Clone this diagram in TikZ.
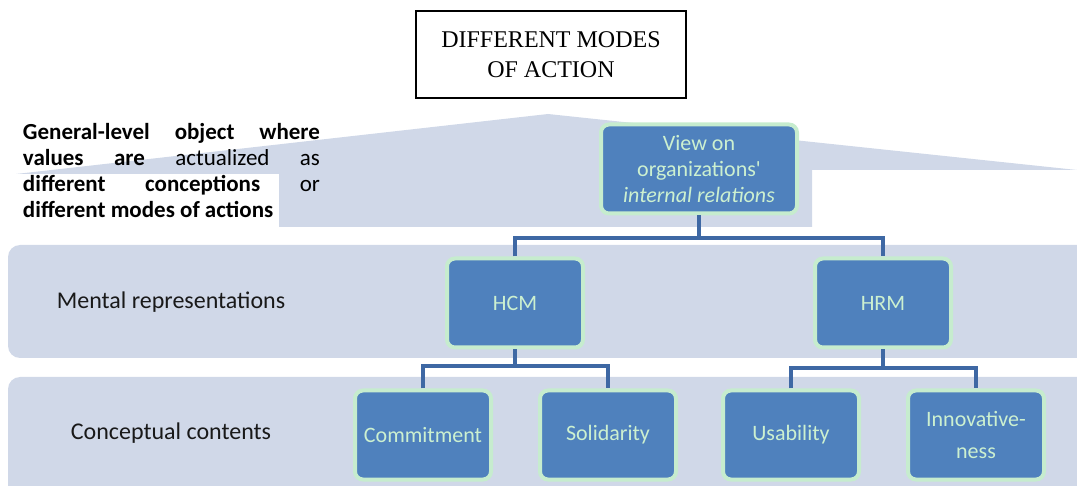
\documentclass[tikz,border=0pt]{standalone}
\usepackage{fontspec}
\setmainfont{Carlito}
\newfontfamily\titlefont{Liberation Serif}
\usetikzlibrary{positioning}

\definecolor{bandgray}{RGB}{208,216,232}
\definecolor{boxfill}{RGB}{79,129,189}
\definecolor{boxedge}{RGB}{198,236,206}
\definecolor{boxtext}{RGB}{204,240,208}
\definecolor{connblue}{RGB}{62,104,164}

\begin{document}
\begin{tikzpicture}[x=1pt, y=-1pt,
    band/.style={fill=bandgray, rounded corners=12pt},
    box/.style={draw=boxedge, line width=4pt, fill=boxfill, rounded corners=8pt,
        text=boxtext, font=\fontsize{22}{26}\selectfont, align=center,
        minimum width=136pt, minimum height=89pt, inner sep=2pt},
    conn/.style={draw=connblue, line width=4pt},
    lbl/.style={font=\fontsize{24}{26}\selectfont, text=black!90}]
        \useasboundingbox (0,0) rectangle (1077,486);
        \clip (0,0) rectangle (1077,486);

        % background bands
        \fill[band] (8,245) rectangle (1100,358);
        \fill[band] (8,377) rectangle (1100,510);
        \fill[bandgray] (16,174) -- (548,114) -- (1077,170) -- (812,170)
            -- (812,227) -- (16,227) -- cycle;
        \fill[white] (10,174) rectangle (279,228);

        % title
        \node[draw, line width=1.2pt, minimum width=270pt, minimum height=87pt,
            align=center, font=\titlefont\fontsize{24}{30}\selectfont]
            (T) at (551,54.5) {DIFFERENT MODES\\OF ACTION};

        % row labels
        \node[text width=297pt, align=justify, inner sep=0pt,
            font=\fontsize{23}{26}\selectfont]
            (L0) at (171.5,171) {\textbf{General-level object where}\linebreak
            \textbf{values are} actualized as\linebreak
            \textbf{different conceptions} or\linebreak
            \textbf{different modes of actions}};
        \node[lbl] (L1) at (171,302) {Mental representations};
        \node[lbl] (L2) at (171,433) {Conceptual contents};

        % boxes
        \node[box, minimum width=196pt] (V) at (699,169)
            {View on\\organizations\textquotesingle\\\textit{internal relations}};
        \node[box] (HCM) at (515,303) {HCM};
        \node[box] (HRM) at (883,303) {HRM};
        \node[box] (C1) at (423,435) {Commitment};
        \node[box] (C2) at (608,435) {Solidarity};
        \node[box] (C3) at (791,435) {Usability};
        \node[box, font=\fontsize{22}{32}\selectfont] (C4) at (976,435) {Innovative-\\ness};

        % connectors
        \coordinate (J0) at (0,238);
        \coordinate (J1) at (0,366);
        \coordinate (J2) at (0,368);
        \draw[conn] (V.south) -- (V.south |- J0);
        \draw[conn] (HCM.north) -- (HCM.north |- J0) -- (HRM.north |- J0) -- (HRM.north);
        \draw[conn] (HCM.south) -- (HCM.south |- J1);
        \draw[conn] (C1.north) -- (C1.north |- J1) -- (C2.north |- J1) -- (C2.north);
        \draw[conn] (HRM.south) -- (HRM.south |- J2);
        \draw[conn] (C3.north) -- (C3.north |- J2) -- (C4.north |- J2) -- (C4.north);
\end{tikzpicture}
\end{document}
